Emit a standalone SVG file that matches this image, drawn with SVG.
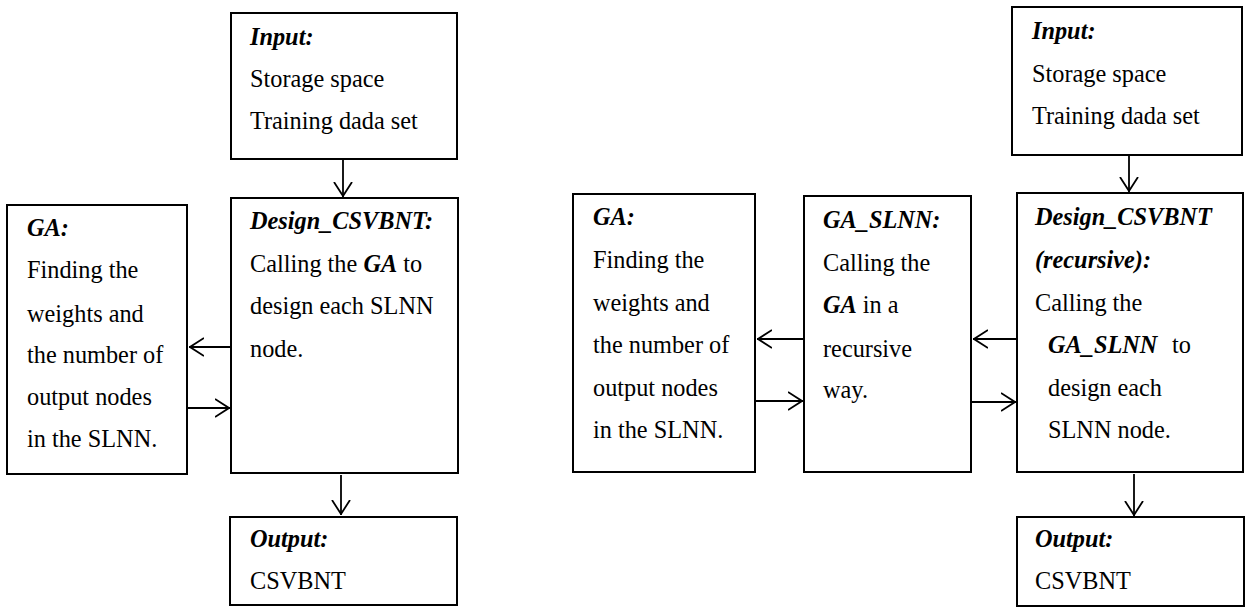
<svg xmlns="http://www.w3.org/2000/svg" width="1245" height="608" viewBox="0 0 1245 608">
<style>
.box{fill:#fff;stroke:#000;stroke-width:2}
text{font-family:"Liberation Serif","Times New Roman",serif;font-size:24.3px;fill:#000}
.h{font-weight:bold;font-style:italic}
.c{fill:none;stroke:#000;stroke-width:1.8}
</style>
<defs>
<marker id="ah" viewBox="0 0 15 20" refX="15" refY="10" markerWidth="15" markerHeight="20" markerUnits="userSpaceOnUse" orient="auto">
<path d="M0,1 L14,10 L0,19" fill="none" stroke="#000" stroke-width="1.8"/>
</marker>
</defs>
<rect width="1245" height="608" fill="#fff"/>
<g id="l-input">
<rect class="box" x="231" y="13" width="226" height="146"/>
<text x="250" y="45" class="h">Input:</text>
<text x="250" y="87">Storage space</text>
<text x="250" y="129">Training dada set</text>
</g>
<g id="l-design">
<rect class="box" x="231" y="198" width="227" height="275"/>
<text x="250" y="229" class="h">Design_CSVBNT:</text>
<text x="250" y="272">Calling the <tspan class="h">GA</tspan> to</text>
<text x="250" y="314">design each SLNN</text>
<text x="250" y="357">node.</text>
</g>
<g id="l-ga">
<rect class="box" x="7" y="205" width="180" height="269"/>
<text x="27" y="236" class="h">GA:</text>
<text x="27" y="278">Finding the</text>
<text x="27" y="322">weights and</text>
<text x="27" y="363">the number of</text>
<text x="27" y="405">output nodes</text>
<text x="27" y="447">in the SLNN.</text>
</g>
<g id="l-output">
<rect class="box" x="230" y="517" width="227" height="88"/>
<text x="250" y="547" class="h">Output:</text>
<text x="250" y="589">CSVBNT</text>
</g>
<g id="r-input">
<rect class="box" x="1012" y="7" width="230" height="148"/>
<text x="1032" y="39" class="h">Input:</text>
<text x="1032" y="82">Storage space</text>
<text x="1032" y="124">Training dada set</text>
</g>
<g id="r-design">
<rect class="box" x="1017" y="193" width="226" height="279"/>
<text x="1035" y="225" class="h">Design_CSVBNT</text>
<text x="1035" y="268" class="h">(recursive):</text>
<text x="1035" y="311">Calling the</text>
<text x="1048" y="353"><tspan class="h">GA_SLNN</tspan><tspan x="1172">to</tspan></text>
<text x="1048" y="396">design each</text>
<text x="1048" y="438">SLNN node.</text>
</g>
<g id="r-gaslnn">
<rect class="box" x="804" y="196" width="167" height="276"/>
<text x="823" y="228" class="h">GA_SLNN:</text>
<text x="823" y="271">Calling the</text>
<text x="823" y="313"><tspan class="h">GA</tspan> in a</text>
<text x="823" y="357">recursive</text>
<text x="823" y="398">way.</text>
</g>
<g id="r-ga">
<rect class="box" x="573" y="194" width="182" height="278"/>
<text x="593" y="225" class="h">GA:</text>
<text x="593" y="268">Finding the</text>
<text x="593" y="311">weights and</text>
<text x="593" y="353">the number of</text>
<text x="593" y="396">output nodes</text>
<text x="593" y="438">in the SLNN.</text>
</g>
<g id="r-output">
<rect class="box" x="1017" y="517" width="227" height="89"/>
<text x="1035" y="547" class="h">Output:</text>
<text x="1035" y="589">CSVBNT</text>
</g>
<g id="connectors">
<line class="c" x1="343" y1="160" x2="343" y2="197" marker-end="url(#ah)"/>
<line class="c" x1="231" y1="347" x2="189" y2="347" marker-end="url(#ah)"/>
<line class="c" x1="187" y1="408" x2="230" y2="408" marker-end="url(#ah)"/>
<line class="c" x1="341" y1="475" x2="341" y2="515" marker-end="url(#ah)"/>
<line class="c" x1="1129" y1="156" x2="1129" y2="192" marker-end="url(#ah)"/>
<line class="c" x1="1017" y1="339" x2="973" y2="339" marker-end="url(#ah)"/>
<line class="c" x1="971" y1="402" x2="1016" y2="402" marker-end="url(#ah)"/>
<line class="c" x1="804" y1="339" x2="757" y2="339" marker-end="url(#ah)"/>
<line class="c" x1="755" y1="401" x2="803" y2="401" marker-end="url(#ah)"/>
<line class="c" x1="1134" y1="474" x2="1134" y2="516" marker-end="url(#ah)"/>
</g>
</svg>
